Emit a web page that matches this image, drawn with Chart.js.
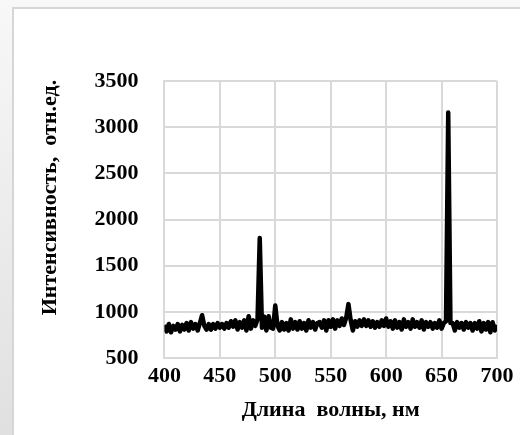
<!DOCTYPE html>
<html>
<head>
<meta charset="utf-8">
<script src="https://cdn.jsdelivr.net/npm/chart.js@4.4.0/dist/chart.umd.min.js"></script>
<style>
  html, body { margin: 0; padding: 0; }
  body {
    width: 520px; height: 435px; overflow: hidden; position: relative;
    background: linear-gradient(to bottom, #f8f8f8, #e0e0e0);
  }
  #panel {
    position: absolute; left: 12px; top: 7px; width: 508px; height: 428px;
    background: #fff; border-left: 2px solid #d6d6d6; border-top: 2px solid #d6d6d6;
  }
  #wrap { position: absolute; left: 0; top: 0; width: 520px; height: 435px; }
</style>
</head>
<body>
<div id="panel"></div>
<div id="wrap"><canvas id="spectrum"></canvas></div>
<script>
'use strict';

// wavelength grid, nm (2 nm step)
var wavelengths = [];
for (var w = 400; w <= 700; w += 2) wavelengths.push(w);

// intensity, rel. units
var intensity = [
  860, 790, 870, 780, 850, 810, 870, 790, 860, 810,   // 400-418
  880, 800, 890, 820, 870, 800, 880, 965, 850, 810,   // 420-438
  870, 810, 870, 820, 880, 830, 870, 820, 880, 830,   // 440-458
  900, 840, 910, 810, 890, 830, 910, 800, 955, 820,   // 460-478
  910, 850, 920, 1800, 830, 950, 800, 955, 830, 820,  // 480-498
  1070, 850, 800, 890, 810, 880, 800, 920, 820, 890,  // 500-518
  810, 900, 820, 880, 800, 910, 830, 890, 810, 880,   // 520-538
  890, 830, 910, 800, 910, 840, 920, 820, 910, 850,   // 540-558
  930, 860, 940, 1085, 910, 800, 900, 840, 910, 850,  // 560-578
  920, 850, 910, 840, 900, 830, 890, 840, 910, 850,   // 580-598
  930, 840, 900, 820, 910, 830, 890, 810, 920, 840,   // 600-618
  890, 820, 920, 840, 890, 830, 910, 810, 890, 840,   // 620-638
  890, 820, 880, 830, 910, 820, 880, 900, 3160, 880,  // 640-658
  880, 800, 890, 830, 880, 810, 890, 830, 880, 800,   // 660-678
  880, 820, 900, 790, 880, 810, 890, 780, 890, 800,   // 680-698
  860                                                 // 700
];

var xTicks = [400, 450, 500, 550, 600, 650, 700];
var yTicks = [500, 1000, 1500, 2000, 2500, 3000, 3500];

var points = [];
wavelengths.forEach(function(wl, i) {
  points.push({ x: wl, y: intensity[i] });
});

var serif = '"Liberation Serif", "Times New Roman", serif';
var gridColor = '#d9d9d9';
var nb = '\u00a0';

var ctx = document.getElementById('spectrum').getContext('2d');
new Chart(ctx, {
  type: 'line',
  data: {
    datasets: [{
      data: points,
      borderColor: '#000',
      borderWidth: 4.5,
      borderJoinStyle: 'round',
      pointRadius: 0,
      tension: 0,
      fill: false
    }]
  },
  options: {
    responsive: true,
    maintainAspectRatio: false,
    animation: false,
    layout: { padding: { left: 37, right: 23, top: 81, bottom: 11 } },
    plugins: { legend: { display: false }, tooltip: { enabled: false } },
    scales: {
      x: {
        type: 'linear',
        min: xTicks[0],
        max: xTicks[xTicks.length - 1],
        afterBuildTicks: function(axis) { axis.ticks = xTicks.map(function(v) { return { value: v }; }); },
        grid: { color: gridColor, lineWidth: 2, drawTicks: false },
        border: { color: gridColor, width: 2 },
        ticks: {
          color: '#000', padding: 5, maxRotation: 0,
          font: { family: serif, size: 22, weight: 'bold' },
          callback: function(v) { return String(v); }
        },
        title: {
          display: true,
          text: 'Длина  волны, нм',
          color: '#000',
          padding: { top: 3, bottom: 0 },
          font: { family: serif, size: 22, weight: 'bold' }
        }
      },
      y: {
        min: yTicks[0],
        max: yTicks[yTicks.length - 1],
        afterBuildTicks: function(axis) { axis.ticks = yTicks.map(function(v) { return { value: v }; }); },
        grid: { color: gridColor, lineWidth: 2, drawTicks: false },
        border: { color: gridColor, width: 2 },
        ticks: {
          color: '#000', padding: 26,
          font: { family: serif, size: 22, weight: 'bold' },
          callback: function(v) { return String(v); }
        },
        title: {
          display: true,
          // leading spaces push the visible text up a little, as in the source
          text: nb.repeat(8) + 'Интенсивность,  отн.ед.',
          color: '#000',
          padding: { top: 0, bottom: 5 },
          font: { family: serif, size: 22, weight: 'bold' }
        }
      }
    }
  }
});
</script>
</body>
</html>
